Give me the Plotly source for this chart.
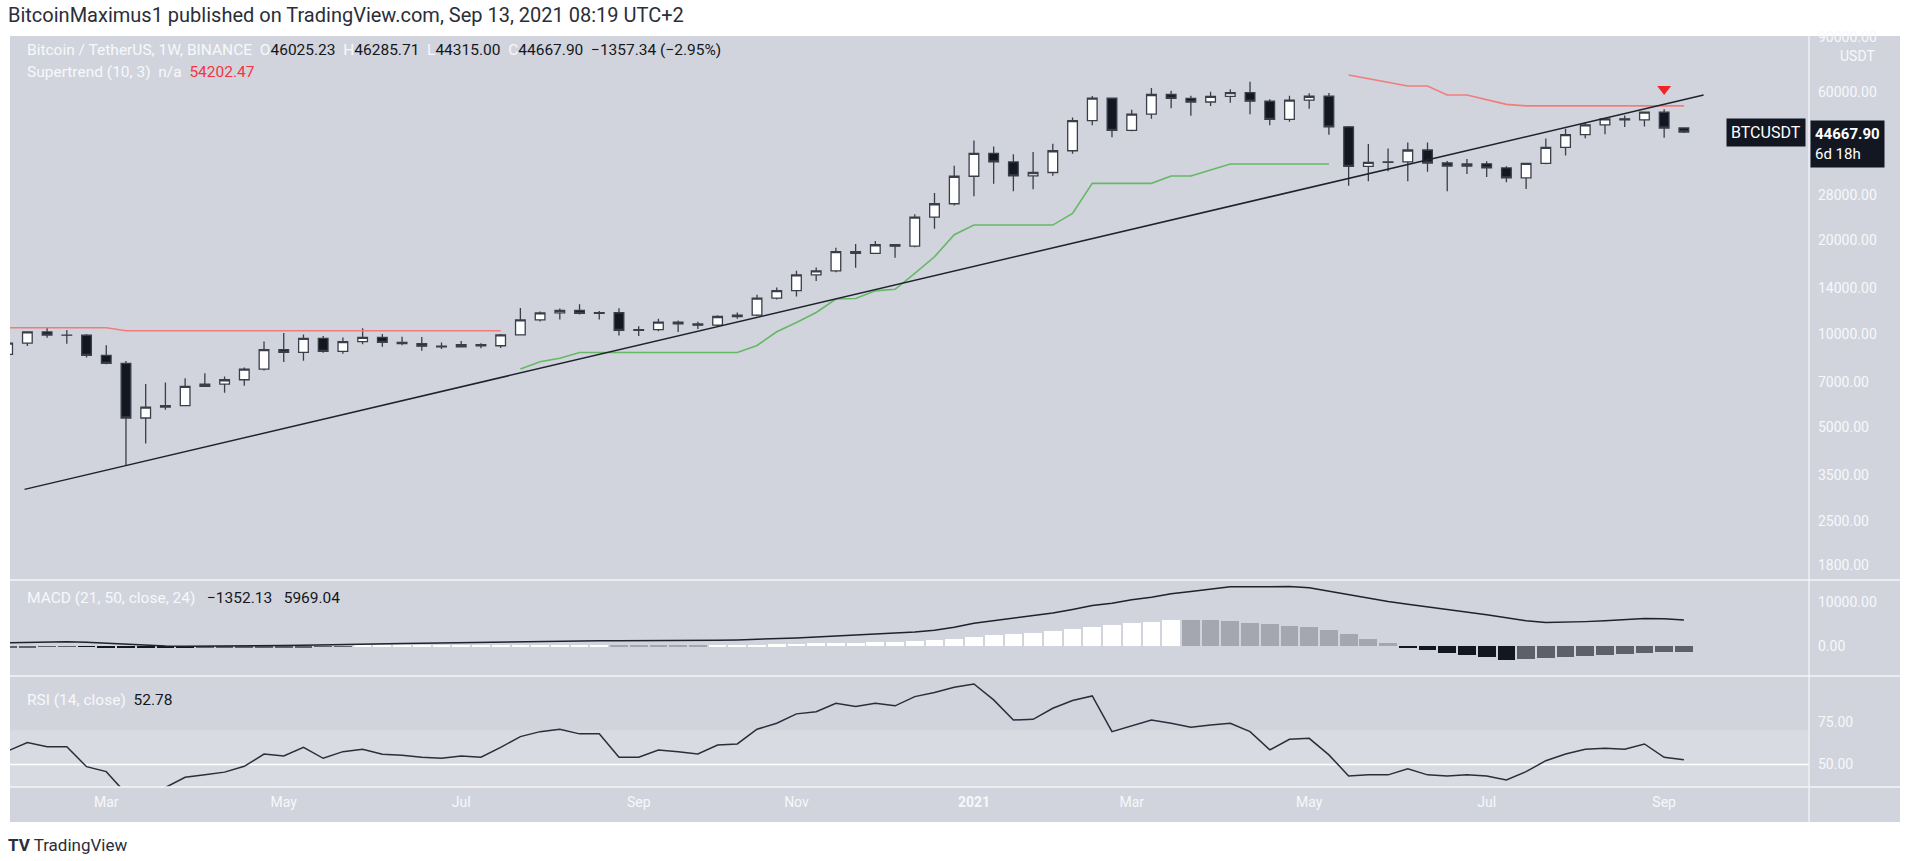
import pandas as pd
import plotly.graph_objects as go

# weekly BTC/USDT candles, 2020-01-27 .. 2021-09-13
dates = pd.date_range("2020-01-27", periods=86, freq="7D")

opens = [8597, 9344, 10150, 9917, 9905, 8530, 8033, 5361, 5816, 5881,
         6775, 6890, 7120, 7700, 8900, 8722, 9680, 8790, 9450, 9750,
         9390, 9300, 9130, 9080, 9240, 9160, 9930, 11090, 11680, 11900,
         11650, 11700, 10260, 10330, 10920, 10770, 10670, 11380, 11500, 13030,
         13780, 15480, 15960, 18400, 18180, 19370, 19170, 23780, 26250, 32180,
         38150, 35790, 32260, 33090, 38870, 48580, 57410, 45240, 50970, 59000,
         57350, 55800, 58200, 59800, 56150, 49070, 56600, 58240, 46430, 34650,
         35680, 35800, 39100, 35500, 34700, 35290, 34240, 31780, 35400, 39850,
         43800, 47080, 49250, 48900, 51750, 46025.23]
highs = [9590, 10160, 10500, 10290, 9990, 9188, 8177, 6900, 6980, 7200,
         7470, 7295, 7790, 9460, 10067, 9950, 9840, 9740, 10430, 9990,
         9800, 9780, 9380, 9480, 9340, 9990, 12123, 11800, 12080, 12470,
         11850, 12090, 10580, 11180, 11050, 10950, 11490, 11720, 13360, 14100,
         15960, 16350, 18950, 19480, 19900, 19420, 24300, 28400, 34780, 41950,
         40100, 37850, 38530, 40950, 49700, 58350, 57500, 52640, 61850, 60700,
         58400, 60200, 61300, 64850, 57000, 58450, 59500, 59600, 46700, 40900,
         39500, 41300, 41300, 36000, 36600, 35970, 34650, 35500, 42600, 45800,
         48150, 49600, 50500, 51900, 52900, 46285.71]
lows = [8510, 9150, 9720, 9300, 8400, 7990, 3782, 4442, 5700, 5857,
        6750, 6463, 6810, 7630, 8117, 8200, 8700, 8630, 9266, 9100,
        9200, 8830, 8940, 9050, 9000, 9010, 9880, 10960, 11130, 11550,
        11130, 9880, 9850, 10200, 10140, 10370, 10530, 11200, 11420, 12900,
        13200, 14800, 15800, 16330, 18110, 17600, 19000, 21815, 25900, 27730,
        30420, 28800, 29240, 32300, 37990, 47000, 43000, 44950, 49300, 53270,
        50430, 54200, 55500, 51000, 47000, 48200, 53050, 43800, 30000, 31000,
        33400, 31000, 33300, 28800, 32700, 32000, 30800, 29280, 35200, 37500,
        42630, 43900, 46400, 46500, 42830, 44315.00]
closes = [9344, 10150, 9917, 9905, 8530, 8033, 5361, 5816, 5881, 6775,
          6890, 7120, 7700, 8900, 8722, 9680, 8790, 9450, 9750, 9390,
          9300, 9130, 9080, 9240, 9160, 9930, 11090, 11680, 11900, 11650,
          11700, 10260, 10330, 10920, 10770, 10670, 11380, 11500, 13030, 13780,
          15480, 15960, 18400, 18180, 19370, 19170, 23780, 26250, 32180, 38150,
          35790, 32260, 33090, 38870, 48580, 57410, 45240, 50970, 59000, 57350,
          55800, 58200, 59800, 56150, 49070, 56600, 58240, 46430, 34650, 35680,
          35800, 39100, 35500, 34700, 35290, 34240, 31780, 35400, 39850, 43800,
          47080, 49250, 48900, 51750, 46025.23, 44667.90]

# Supertrend (10, 3): red bear segments and green bull segment
st_red1 = [10469, 10469, 10469, 10469, 10469, 10469, 10238, 10238, 10238, 10238,
           10238, 10238, 10238, 10238, 10238, 10238, 10238, 10238, 10238, 10238,
           10238, 10238, 10238, 10238, 10238, 10238]
st_green = [7708, 8136, 8345, 8710, 8710, 8710, 8710, 8710, 8710, 8710,
            8710, 8710, 9175, 10163, 10880, 11720, 12950, 13000, 13760, 13920,
            15670, 17720, 20860, 22410, 22410, 22410, 22410, 22410, 24440, 30530,
            30530, 30530, 30530, 32230, 32230, 33700, 35230, 35230, 35230, 35230,
            35230, 35230]
st_red2 = [68170, 66320, 64570, 62830, 62830, 58750, 58750, 56750, 54830, 54202.47,
           54202.47, 54202.47, 54202.47, 54202.47, 54202.47, 54202.47, 54202.47, 54202.47]

# hand drawn support line and sell marker
trend_x = ["2020-02-02", "2021-09-20"]
trend_y = [3159, 58760]
signal_x = ["2021-09-06"]
signal_y = [61500]

# MACD (21, 50, close, 24)
macd = [760, 850, 950, 990, 850, 650, 350, 100, 0, -50,
        -50, 0, 0, 50, 100, 150, 200, 280, 400, 480,
        560, 640, 720, 800, 900, 980, 1050, 1120, 1170, 1200,
        1220, 1220, 1220, 1220, 1220, 1230, 1300, 1400, 1500, 1650,
        1850, 2050, 2250, 2450, 2650, 2900, 3200, 3600, 4300, 5200,
        5800, 6300, 6900, 7600, 8400, 9300, 9800, 10600, 11200, 12000,
        12500, 13100, 13600, 13600, 13550, 13650, 13400, 12600, 11700, 10900,
        10200, 9600, 9000, 8400, 7900, 7200, 6500, 5800, 5400, 5450,
        5600, 5800, 6000, 6300, 6250, 5969.04]
hist = [-300, -250, -200, -150, -200, -280, -360, -420, -460, -480,
        -450, -420, -380, -340, -300, -260, -220, -180, 50, 80,
        100, 120, 140, 160, 180, 200, 210, 220, 230, 240,
        250, 230, 210, 190, 170, 150, 200, 260, 330, 400,
        500, 600, 700, 800, 900, 1000, 1150, 1400, 1700, 2100,
        2500, 2800, 3100, 3500, 3900, 4400, 4800, 5200, 5600, 6000,
        5950, 5900, 5700, 5300, 4950, 4600, 4300, 3600, 2700, 1700,
        600, -400, -900, -1500, -2000, -2500, -3100, -3000, -2800, -2500,
        -2200, -1950, -1750, -1550, -1450, -1352.13]

# RSI (14, close)
rsi = [57.9, 62.8, 60.4, 60.4, 48.7, 45.8, 33.0, 31.5, 36.5, 42.5,
       43.9, 45.5, 48.9, 56.1, 55.0, 60.0, 53.6, 57.5, 58.9, 56.0,
       55.4, 54.2, 53.6, 55.0, 54.2, 60.0, 66.3, 69.2, 70.6, 67.9,
       67.9, 54.2, 54.2, 58.5, 57.5, 56.1, 61.4, 62.0, 70.6, 74.1,
       79.6, 80.9, 85.8, 83.9, 85.8, 84.3, 89.7, 92.1, 95.2, 97.1,
       87.8, 76.0, 76.4, 82.9, 87.4, 90.1, 69.2, 72.5, 76.0, 74.1,
       71.8, 73.1, 74.1, 69.2, 58.5, 64.7, 65.3, 55.6, 43.3, 43.9,
       43.9, 47.4, 43.9, 43.3, 43.9, 43.3, 40.9, 45.8, 52.2, 56.1,
       58.9, 59.5, 58.9, 62.0, 54.2, 52.78]

price_ticks = [1800, 2500, 3500, 5000, 7000, 10000, 14000, 20000, 28000, 60000, 90000]
month_ticks = ["2020-03-02", "2020-05-04", "2020-07-06", "2020-09-07", "2020-11-02",
               "2021-01-04", "2021-03-01", "2021-05-03", "2021-07-05", "2021-09-06"]
month_text = ["Mar", "May", "Jul", "Sep", "Nov", "<b>2021</b>", "Mar", "May", "Jul", "Sep"]

BG = "#d1d4dc"
DARK = "#131722"
LIGHT = "#f7f8fc"
FONT = "Roboto"

# histogram colours the TradingView way: sign + rising/falling
hist_colors = []
for k, v in enumerate(hist):
    prev = hist[k - 1] if k > 0 else v
    if v >= 0:
        hist_colors.append("#ffffff" if v >= prev else "#a4a7b0")
    else:
        hist_colors.append("#5d606b" if v >= prev else DARK)

fig = go.Figure()

fig.add_trace(go.Candlestick(
    x=dates, open=opens, high=highs, low=lows, close=closes,
    increasing=dict(fillcolor="#ffffff", line=dict(color="#3a3e49", width=1.3)),
    decreasing=dict(fillcolor=DARK, line=dict(color="#3a3e49", width=1.3)),
    whiskerwidth=0, showlegend=False, hoverinfo="skip", xaxis="x", yaxis="y"))

fig.add_trace(go.Scatter(x=dates[0:26], y=st_red1, mode="lines",
                         line=dict(color="#f27c7c", width=1.6), showlegend=False))
fig.add_trace(go.Scatter(x=dates[26:68], y=st_green, mode="lines",
                         line=dict(color="#66b866", width=1.6), showlegend=False))
fig.add_trace(go.Scatter(x=dates[68:86], y=st_red2, mode="lines",
                         line=dict(color="#f27c7c", width=1.6), showlegend=False))
fig.add_trace(go.Scatter(x=trend_x, y=trend_y, mode="lines",
                         line=dict(color="#1e222d", width=1.5), showlegend=False))
fig.add_trace(go.Scatter(x=signal_x, y=signal_y, mode="markers",
                         marker=dict(symbol="triangle-down", size=12, color="#f02424"),
                         showlegend=False))

fig.add_trace(go.Bar(x=dates, y=hist, marker=dict(color=hist_colors, line=dict(width=0)),
                     width=6.3 * 86400000, showlegend=False, xaxis="x2", yaxis="y2"))
fig.add_trace(go.Scatter(x=dates, y=macd, mode="lines", line=dict(color="#1e222d", width=1.5),
                         showlegend=False, xaxis="x2", yaxis="y2"))

fig.add_trace(go.Scatter(x=dates, y=rsi, mode="lines", line=dict(color="#2a2e39", width=1.5),
                         showlegend=False, xaxis="x3", yaxis="y3"))

xr = ["2020-01-27 20:00", "2021-10-27 10:00"]
xcommon = dict(type="date", range=xr, showgrid=False, zeroline=False, showline=False)
ycommon = dict(side="right", showgrid=False, zeroline=False, showline=False, ticks="",
               ticklabelstandoff=8, tickfont=dict(family=FONT, size=14, color=LIGHT))

fig.update_layout(
    width=1914, height=861,
    margin=dict(l=10, r=105, t=37, b=74),
    paper_bgcolor="#ffffff", plot_bgcolor="rgba(0,0,0,0)",
    bargap=0, hovermode=False,
    xaxis=dict(**xcommon, anchor="y", showticklabels=False, rangeslider=dict(visible=False)),
    xaxis2=dict(**xcommon, anchor="y2", matches="x", showticklabels=False),
    xaxis3=dict(**xcommon, anchor="y3", matches="x", tickvals=month_ticks, ticktext=month_text,
                ticks="", ticklabelstandoff=5, tickfont=dict(family=FONT, size=14, color=LIGHT)),
    yaxis=dict(**ycommon, domain=[0.2773, 1], type="log", range=[3.2109, 4.9559],
               tickvals=price_ticks, ticktext=[f"{v:.2f}" for v in price_ticks]),
    yaxis2=dict(**ycommon, domain=[0.1493, 0.2747], range=[-6670, 14940],
                tickvals=[0, 10000], ticktext=["0.00", "10000.00"]),
    yaxis3=dict(**ycommon, domain=[0, 0.1467], range=[36.8, 101.2],
                tickvals=[50, 75], ticktext=["50.00", "75.00"]),
)

shapes = [
    dict(type="rect", xref="paper", yref="paper", x0=0, x1=1.0506, y0=-0.0467, y1=1.0013,
         fillcolor=BG, line=dict(width=0), layer="below"),
    dict(type="rect", xref="x3 domain", yref="y3", x0=0, x1=1, y0=30, y1=70,
         fillcolor="rgba(255,255,255,0.18)", line=dict(width=0), layer="below"),
    dict(type="line", xref="x3 domain", yref="y3", x0=0, x1=1, y0=50, y1=50,
         line=dict(color="#ffffff", width=1.5), layer="below"),
]
for yy in [0.276, 0.148, 0.0]:
    shapes.append(dict(type="line", xref="paper", yref="paper", x0=0, x1=1.0506, y0=yy, y1=yy,
                       line=dict(color="#f4f5f8", width=1.3)))
shapes.append(dict(type="line", xref="paper", yref="paper", x0=1.0, x1=1.0, y0=-0.0467, y1=1.0013,
                   line=dict(color="#f4f5f8", width=1.3)))
fig.update_layout(shapes=shapes)


def lab(s):
    return f'<span style="color:{LIGHT}">{s}</span>'


sp = "&nbsp;&nbsp;"
line1 = (lab("Bitcoin / TetherUS, 1W, BINANCE") + sp + lab("O") + f"{opens[-1]:.2f}" + sp
         + lab("H") + f"{highs[-1]:.2f}" + sp + lab("L") + f"{lows[-1]:.2f}" + sp
         + lab("C") + f"{closes[-1]:.2f}" + sp + "−1357.34 (−2.95%)")
line2 = (lab("Supertrend (10, 3)") + sp + lab("n/a") + sp
         + f'<span style="color:#f23645">{st_red2[-1]:.2f}</span>')
sp3 = "&nbsp;&nbsp;&nbsp;"
macd_leg = (lab("MACD (21, 50, close, 24)") + sp3 + f"{hist[-1]:.2f}".replace("-", "−")
            + sp3 + f"{macd[-1]:.2f}")
rsi_leg = lab("RSI (14, close)") + sp + f"{rsi[-1]:.2f}"

annos = [
    dict(text="BitcoinMaximus1 published on TradingView.com, Sep 13, 2021 08:19 UTC+2",
         x=-0.002, y=1.0293, font=dict(size=20, color="#2a2e39")),
    dict(text=line1, x=0.0083, y=0.9827, font=dict(size=15.5, color=DARK)),
    dict(text=line2, x=0.0083, y=0.9533, font=dict(size=15.5, color=DARK)),
    dict(text=macd_leg, x=0.0083, y=0.252, font=dict(size=15.5, color=DARK)),
    dict(text=rsi_leg, x=0.0083, y=0.116, font=dict(size=15.5, color=DARK)),
    dict(text="<b>TV</b> TradingView", x=-0.002, y=-0.0773, font=dict(size=17, color="#2a2e39")),
]
for a in annos:
    a.update(xref="paper", yref="paper", xanchor="left", yanchor="middle", showarrow=False)
    a["font"]["family"] = FONT

annos += [
    dict(text="USDT", xref="paper", yref="paper", x=1.0267, y=0.9747, xanchor="center",
         yanchor="middle", showarrow=False, bgcolor=BG,
         font=dict(family=FONT, size=14, color=LIGHT)),
    dict(text="BTCUSDT", xref="paper", yref="y", x=0.9983, y=4.65, xanchor="right",
         yanchor="middle", showarrow=False, bgcolor=DARK, borderpad=4,
         font=dict(family=FONT, size=16, color="#ffffff")),
    dict(text=f"<b>{closes[-1]:.2f}</b><br>6d 18h", xref="paper", yref="y", x=1.0006, y=4.65,
         xanchor="left", yanchor="top", yshift=12, align="left", showarrow=False,
         bgcolor=DARK, borderpad=4, font=dict(family=FONT, size=15, color="#ffffff")),
]
fig.update_layout(annotations=annos)

fig.write_html("out.html", config={"displayModeBar": False},
               post_script="document.body.style.margin='0';")
